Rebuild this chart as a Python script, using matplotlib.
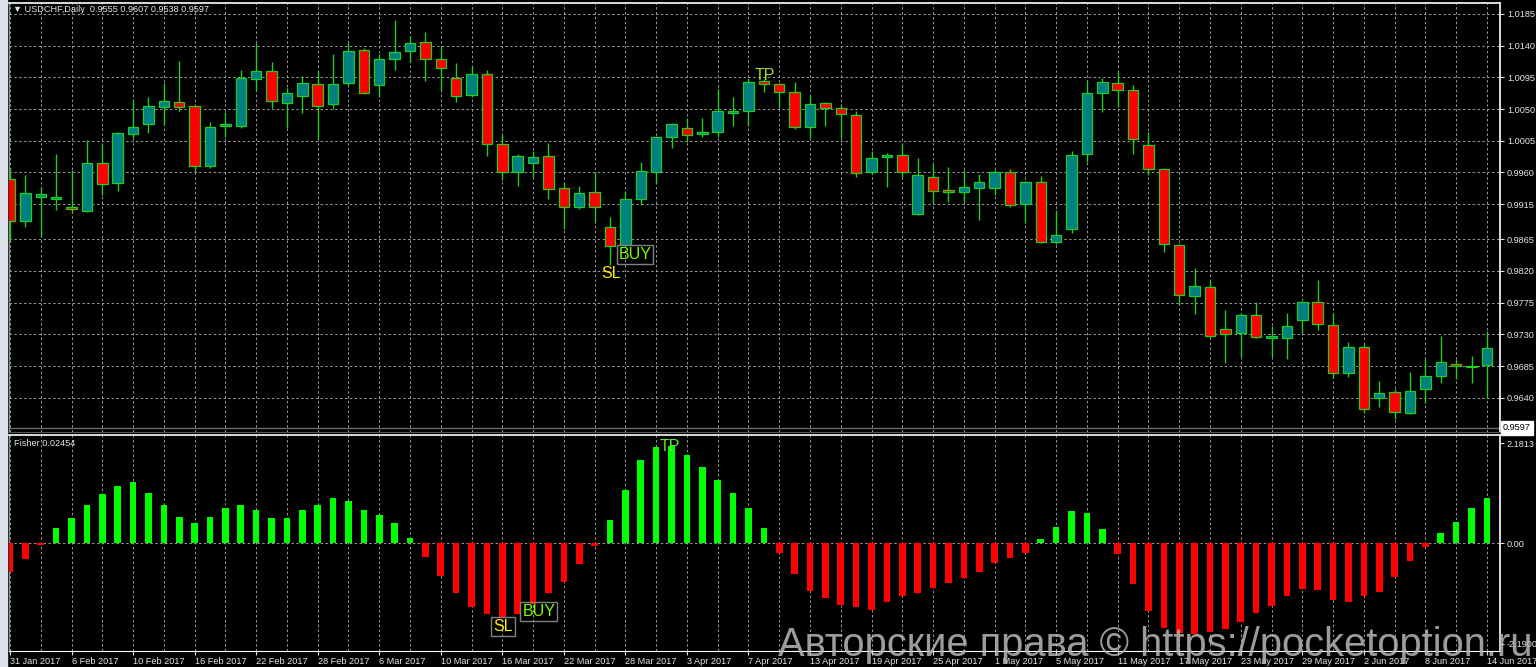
import numpy as np
import pandas as pd
import matplotlib
matplotlib.use("Agg")
import matplotlib.pyplot as plt
from matplotlib.patches import Rectangle
from matplotlib.transforms import blended_transform_factory

# USDCHF daily bars, 31 Jan 2017 .. 14 Jun 2017
dates = pd.bdate_range("2017-01-31", "2017-06-14")

opens = [0.9951, 0.9891, 0.9925, 0.9922, 0.9911, 0.9905, 0.9973, 0.9945, 1.0015, 1.0029,
         1.0053, 1.0060, 1.0054, 0.9969, 1.0026, 1.0026, 1.0093, 1.0104, 1.0059, 1.0069,
         1.0086, 1.0057, 1.0087, 1.0134, 1.0084, 1.0121, 1.0132, 1.0145, 1.0121, 1.0094,
         1.0070, 1.0100, 1.0000, 0.9961, 0.9973, 0.9983, 0.9938, 0.9911, 0.9932, 0.9883,
         0.9857, 0.9922, 0.9961, 1.0010, 1.0023, 1.0015, 1.0017, 1.0044, 1.0047, 1.0090,
         1.0086, 1.0074, 1.0025, 1.0059, 1.0052, 1.0042, 0.9961, 0.9982, 0.9985, 0.9901,
         0.9954, 0.9935, 0.9932, 0.9938, 0.9938, 0.9961, 0.9915, 0.9946, 0.9861, 0.9880,
         0.9986, 1.0073, 1.0087, 1.0077, 0.9999, 0.9965, 0.9857, 0.9785, 0.9797, 0.9738,
         0.9732, 0.9757, 0.9725, 0.9725, 0.9750, 0.9776, 0.9743, 0.9675, 0.9712, 0.9640,
         0.9648, 0.9618, 0.9652, 0.9671, 0.9688, 0.9684, 0.9686]
highs = [0.9966, 0.9956, 0.9939, 0.9986, 0.9963, 1.0006, 1.0000, 1.0017, 1.0063, 1.0067,
         1.0087, 1.0118, 1.0056, 1.0032, 1.0046, 1.0106, 1.0144, 1.0117, 1.0080, 1.0097,
         1.0104, 1.0128, 1.0145, 1.0137, 1.0128, 1.0177, 1.0154, 1.0160, 1.0140, 1.0115,
         1.0111, 1.0106, 1.0013, 0.9986, 0.9990, 1.0002, 0.9946, 0.9941, 0.9961, 0.9897,
         0.9934, 0.9975, 1.0012, 1.0030, 1.0037, 1.0037, 1.0079, 1.0067, 1.0094, 1.0093,
         1.0087, 1.0089, 1.0070, 1.0060, 1.0056, 1.0047, 0.9990, 0.9988, 1.0000, 0.9980,
         0.9972, 0.9968, 0.9963, 0.9958, 0.9963, 0.9965, 0.9948, 0.9955, 0.9907, 0.9990,
         1.0090, 1.0094, 1.0103, 1.0084, 1.0017, 0.9966, 0.9858, 0.9824, 0.9806, 0.9765,
         0.9760, 0.9776, 0.9742, 0.9760, 0.9777, 0.9807, 0.9760, 0.9719, 0.9716, 0.9664,
         0.9652, 0.9677, 0.9695, 0.9728, 0.9695, 0.9699, 0.9735]
lows = [0.9861, 0.9883, 0.9868, 0.9907, 0.9902, 0.9904, 0.9928, 0.9934, 1.0009, 1.0016,
        1.0027, 1.0047, 0.9961, 0.9966, 1.0010, 1.0023, 1.0076, 1.0052, 1.0023, 1.0044,
        1.0007, 1.0050, 1.0084, 1.0071, 1.0067, 1.0106, 1.0117, 1.0090, 1.0076, 1.0060,
        1.0067, 0.9983, 0.9949, 0.9941, 0.9954, 0.9922, 0.9880, 0.9908, 0.9888, 0.9829,
        0.9856, 0.9914, 0.9945, 0.9995, 1.0003, 1.0010, 1.0010, 1.0026, 1.0026, 1.0074,
        1.0052, 1.0022, 1.0009, 1.0026, 1.0009, 0.9954, 0.9958, 0.9939, 0.9954, 0.9899,
        0.9917, 0.9918, 0.9918, 0.9892, 0.9928, 0.9911, 0.9888, 0.9860, 0.9858, 0.9874,
        0.9975, 1.0046, 1.0053, 0.9986, 0.9956, 0.9847, 0.9773, 0.9759, 0.9726, 0.9689,
        0.9698, 0.9725, 0.9698, 0.9695, 0.9732, 0.9736, 0.9668, 0.9669, 0.9618, 0.9627,
        0.9610, 0.9617, 0.9632, 0.9661, 0.9667, 0.9661, 0.9640]
closes = [0.9891, 0.9931, 0.9929, 0.9925, 0.9908, 0.9973, 0.9944, 1.0016, 1.0025, 1.0054,
          1.0061, 1.0053, 0.9969, 1.0025, 1.0029, 1.0094, 1.0104, 1.0061, 1.0073, 1.0087,
          1.0054, 1.0086, 1.0132, 1.0073, 1.0121, 1.0131, 1.0144, 1.0121, 1.0108, 1.0069,
          1.0100, 1.0000, 0.9961, 0.9983, 0.9982, 0.9936, 0.9911, 0.9931, 0.9911, 0.9856,
          0.9922, 0.9962, 1.0010, 1.0029, 1.0013, 1.0017, 1.0047, 1.0047, 1.0089, 1.0086,
          1.0074, 1.0025, 1.0057, 1.0052, 1.0043, 0.9959, 0.9980, 0.9985, 0.9961, 0.9956,
          0.9934, 0.9932, 0.9939, 0.9946, 0.9961, 0.9914, 0.9946, 0.9861, 0.9871, 0.9985,
          1.0073, 1.0089, 1.0077, 1.0007, 0.9965, 0.9858, 0.9786, 0.9799, 0.9728, 0.9730,
          0.9757, 0.9726, 0.9728, 0.9742, 0.9776, 0.9745, 0.9675, 0.9712, 0.9624, 0.9647,
          0.9620, 0.9650, 0.9671, 0.9691, 0.9685, 0.9685, 0.9711]

# Fisher transform histogram
fisher = [-0.62, -0.34, -0.04, 0.33, 0.55, 0.83, 1.07, 1.25, 1.34, 1.10,
          0.83, 0.58, 0.44, 0.58, 0.78, 0.83, 0.73, 0.56, 0.56, 0.73,
          0.83, 0.98, 0.92, 0.73, 0.62, 0.45, 0.12, -0.30, -0.71, -1.08,
          -1.38, -1.54, -1.64, -1.54, -1.32, -1.09, -0.84, -0.46, -0.05, 0.51,
          1.16, 1.82, 2.11, 2.12, 1.93, 1.67, 1.38, 1.10, 0.76, 0.33,
          -0.22, -0.68, -1.04, -1.20, -1.35, -1.38, -1.45, -1.29, -1.14, -1.08,
          -0.97, -0.87, -0.76, -0.62, -0.42, -0.31, -0.22, 0.09, 0.36, 0.70,
          0.65, 0.32, -0.24, -0.89, -1.48, -1.85, -1.96, -1.98, -1.93, -1.87,
          -1.71, -1.53, -1.36, -1.14, -1.00, -1.02, -1.24, -1.27, -1.16, -1.06,
          -0.73, -0.38, -0.07, 0.22, 0.47, 0.76, 0.98]

price_ticks = [1.0185, 1.0140, 1.0095, 1.0050, 1.0005, 0.9960, 0.9915,
               0.9865, 0.9820, 0.9775, 0.9730, 0.9685, 0.9640]
fisher_ticks = [2.1813, 0.0, -2.19008]
fisher_tick_labels = ["2.1813", "0.00", "-2.19008"]
last_price = 0.9597
header = "\u25bc USDCHF,Daily  0.9555 0.9607 0.9538 0.9597"
fisher_title = "Fisher 0.02454"
watermark = "Авторские права © https://pocketoption.ru"

# signal labels: (text, bar position, value)
main_signals = [("BUY", 39.55, 0.9843), ("SL", 38.4, 0.98165), ("TP", 48.4, 1.0098)]
fisher_signals = [("TP", 42.25, 2.11), ("SL", 31.4, -1.81), ("BUY", 33.3, -1.49)]

BULL = "#008080"
BEAR = "#ff0000"
WICK = "#1fcf1f"
GRID = "#9a9a9a"
TXT = "#e6e6e6"
FONT = ["Liberation Sans", "DejaVu Sans"]

o = np.array(opens); h = np.array(highs); l = np.array(lows); c = np.array(closes)
f = np.array(fisher)
x = np.arange(len(dates))

fig = plt.figure(figsize=(15.36, 6.67), dpi=100, facecolor="black")
W, H = 1536, 667
ax1 = fig.add_axes([9 / W, 1 - 432 / H, (1500 - 9) / W, (432 - 2.5) / H], facecolor="black")
ax2 = fig.add_axes([9 / W, 1 - 650.5 / H, (1500 - 9) / W, (650.5 - 434.5) / H],
                   facecolor="black", sharex=ax1)
fig.patches.append(Rectangle((0, 0), 7 / W, 1, transform=fig.transFigure,
                             color="#dde2ea", zorder=0))

dash = (0, (2.5, 2.5))

# ---- candles
colors = np.where(c >= o, BULL, BEAR)
ax1.vlines(x, l, h, color=WICK, lw=1.0, zorder=2)
ax1.bar(x, np.abs(c - o), bottom=np.minimum(o, c), width=0.68, color=colors,
        edgecolor=WICK, linewidth=0.9, zorder=3)
ax1.axhline(last_price, color="#6a6a6a", lw=1.0, zorder=1)

ax1.set_xlim(-0.065, 96.85)
ax1.set_ylim(0.95913, 1.02013)
ax1.set_yticks(price_ticks)
ax1.set_yticklabels([f"{v:.4f}" for v in price_ticks])
ax1.yaxis.tick_right()
ax1.tick_params(axis="y", colors=TXT, labelsize=6.6, length=3, pad=2, width=0.8)
ax1.tick_params(axis="x", which="both", length=0, labelbottom=False)
ax1.grid(True, axis="y", color=GRID, lw=0.7, linestyle=dash)
ax1.grid(True, axis="x", which="both", color=GRID, lw=0.7, linestyle=dash)
ax1.set_axisbelow(True)
for lab in ax1.get_yticklabels():
    lab.set_family(FONT)

tr1 = blended_transform_factory(ax1.transAxes, ax1.transData)
ax1.text(1.0 + 3 / 1491, last_price, "0.9597", transform=tr1, ha="left", va="center",
         fontsize=6.6, family=FONT, color="black",
         bbox=dict(boxstyle="square,pad=0.25", fc="white", ec="white"))

# ---- fisher histogram
ax2.bar(x, f, width=0.43, color=np.where(f >= 0, "#00ff00", "#ff0000"), zorder=3)
ax2.axhline(0, color=GRID, lw=0.7, linestyle=dash, zorder=1)
ax2.set_ylim(-2.338, 2.373)
ax2.set_yticks(fisher_ticks)
ax2.set_yticklabels(fisher_tick_labels)
ax2.yaxis.tick_right()
ax2.tick_params(axis="y", colors=TXT, labelsize=6.6, length=3, pad=2, width=0.8)

ax2.set_xticks(x[::4])
ax2.set_xticklabels([f"{d.day} {d.strftime('%b %Y')}" for d in dates[::4]])
ax2.set_xticks(x[2::4], minor=True)
ax2.tick_params(axis="x", which="major", colors=TXT, labelsize=6.6, length=3, pad=2, width=0.8)
ax2.tick_params(axis="x", which="minor", length=0)
ax2.grid(True, axis="x", which="both", color=GRID, lw=0.7, linestyle=dash)
ax2.set_axisbelow(True)
for lab in ax2.get_xticklabels():
    lab.set_ha("left")
    lab.set_family(FONT)
for lab in ax2.get_yticklabels():
    lab.set_family(FONT)

for ax in (ax1, ax2):
    for side in ("top", "right"):
        ax.spines[side].set_color("white")
        ax.spines[side].set_linewidth(1.2)
    ax.spines["left"].set_color("#8a8a8a")
ax1.spines["bottom"].set_color("#555555")
ax2.spines["bottom"].set_color("white")

# ---- signal labels
for txt, xi, yv in main_signals:
    if txt == "BUY":
        ax1.text(xi, yv, txt, color="#7cfc00", fontsize=11.5, family=FONT, ha="left", va="center",
                 zorder=5, bbox=dict(boxstyle="square,pad=0.12", fc="none", ec="#808080", lw=1))
    elif txt == "SL":
        ax1.text(xi, yv, txt, color="#ffee00", fontsize=11.5, family=FONT, ha="left", va="center", zorder=5)
    else:
        ax1.text(xi, yv, txt, color="#a8d828", fontsize=11.5, family=FONT, ha="left", va="center", zorder=5)

for txt, xi, yv in fisher_signals:
    if txt == "TP":
        ax2.text(xi, yv, txt, color="#66e633", fontsize=11.5, family=FONT, ha="left", va="center", zorder=5)
    else:
        col = "#ffee00" if txt == "SL" else "#7cfc00"
        ax2.text(xi, yv, txt, color=col, fontsize=11.5, family=FONT, ha="left", va="center", zorder=5,
                 bbox=dict(boxstyle="square,pad=0.12", fc="none", ec="#808080", lw=1))

# ---- header texts
fig.text(13 / W, 1 - 10 / H, header, color=TXT, fontsize=6.6, family=FONT, ha="left", va="center")
fig.text(14 / W, 1 - 444 / H, fisher_title, color=TXT, fontsize=6.6, family=FONT, ha="left", va="center")

# watermark
fig.text(778 / W, 1 - 656 / H, watermark, color="#b8b8b8", alpha=0.85, fontsize=28.7,
         family=FONT, ha="left", va="baseline", zorder=10)

fig.savefig("out.png", dpi=100, facecolor="black")
